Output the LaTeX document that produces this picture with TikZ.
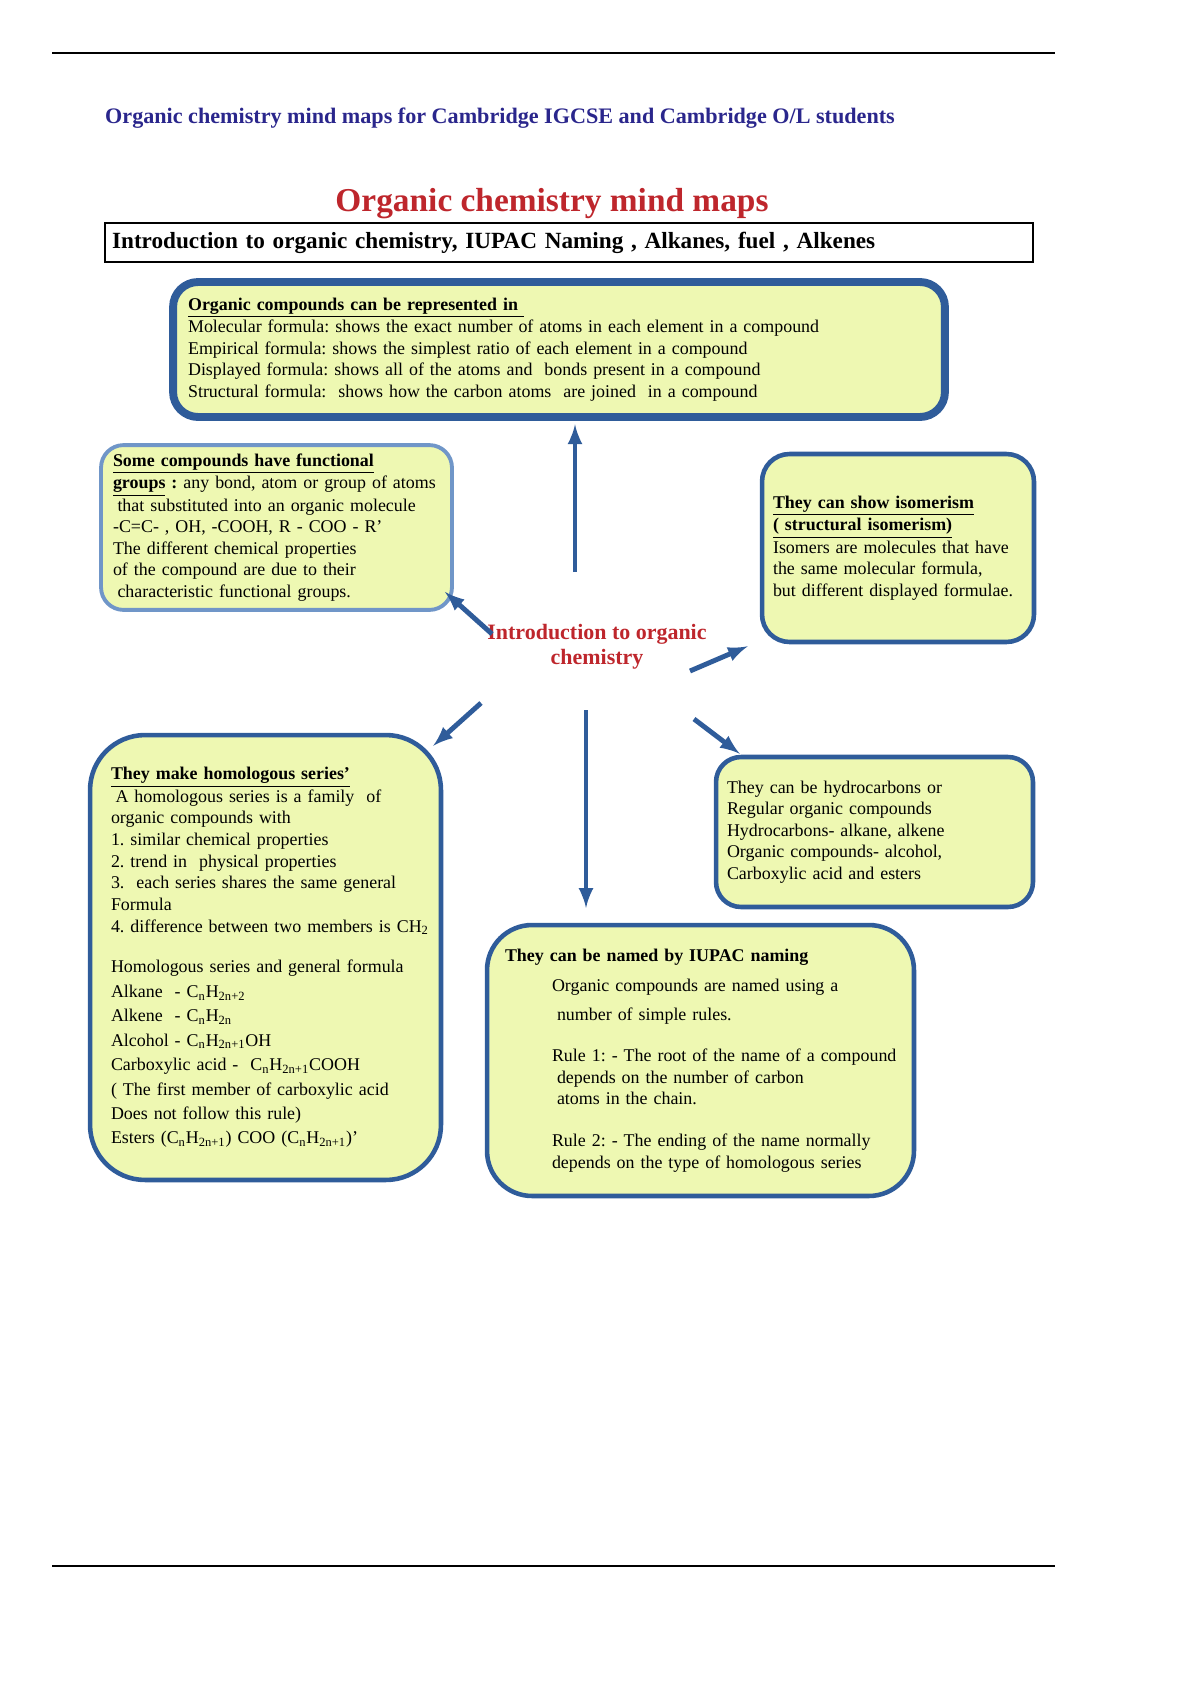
\documentclass[tikz,border=0pt]{standalone}
\usepackage{fontspec}
\setmainfont{Liberation Serif}
\usepackage{tikz}

\definecolor{boxfill}{RGB}{238,248,178}
\definecolor{boxline}{RGB}{47,92,154}
\definecolor{paleline}{RGB}{112,150,200}
\definecolor{titlered}{RGB}{190,38,44}
\definecolor{headblue}{RGB}{42,38,140}
\newcommand{\bodyfont}{\fontsize{10.2}{12.3}\selectfont\frenchspacing}
\newcommand{\hd}[1]{\underline{\textbf{#1}}}
\newcommand{\sub}[1]{\textsubscript{#1}}
\newcommand{\lines}[1]{\begin{tabular}{@{}l@{}}#1\end{tabular}}

\begin{document}
\begin{tikzpicture}[x=0.02cm,y=-0.02cm]
\tikzstyle{card}=[draw=boxline,fill=boxfill,line width=2.6pt,align=left,font=\bodyfont]
\tikzstyle{arr}=[-latex,draw=boxline,line width=2.8pt]
\useasboundingbox (0,0) rectangle (1200,1700);
\draw[line width=1.1pt] (52,53) -- (1055,53);
\draw[line width=1.1pt] (52,1566) -- (1055,1566);
\node[anchor=west,text=headblue,font=\fontsize{12.6}{15}\selectfont\bfseries] (head) at (99,118) {Organic chemistry mind maps for Cambridge IGCSE and Cambridge O/L students};
\node[text=titlered,font=\fontsize{19}{22}\selectfont\bfseries] (title) at (552,204) {Organic chemistry mind maps};
\node[draw,line width=1pt,minimum width=18.56cm,minimum height=0.78cm,text width=18.28cm,inner xsep=0.14cm,align=left,font=\fontsize{13.2}{15}\selectfont\bfseries] (topic) at (569,242.5) {Introduction to organic chemistry, IUPAC Naming , Alkanes, fuel , Alkenes};

\node[card,line width=4.5pt,rounded corners=0.5cm,text width=14.84cm,inner xsep=0.3cm,minimum height=2.7cm] (repr) at (559,349.5) {\lines{\hd{Organic compounds can be represented in~}\\
Molecular formula: shows the exact number of atoms in each element in a compound\\
Empirical formula: shows the simplest ratio of each element in a compound\\
Displayed formula: shows all of the atoms and\ \ bonds present in a compound\\
Structural formula:\ \ shows how the carbon atoms\ \ are joined\ \ in a compound}};

\node[card,draw=paleline,line width=2.2pt,rounded corners=0.45cm,text width=6.54cm,inner xsep=0.24cm,minimum height=3.1cm] (func) at (276.5,527.5) {\lines{\hd{Some compounds have functional}\\
\hd{groups}\textbf{ :} any bond, atom or group of atoms\\
\hspace*{0.25em}that substituted into an organic molecule\\
-C=C- , OH, -COOH, R - COO - R’\\
The different chemical properties\\
of the compound are due to their\\
\hspace*{0.25em}characteristic functional groups.}};

\node[card,rounded corners=0.55cm,text width=5cm,inner xsep=0.22cm,minimum height=3.76cm] (isomer) at (898,548) {\lines{\hd{They can show isomerism}\\
\hd{( structural isomerism)}\\
Isomers are molecules that have\\
the same molecular formula,\\
but different displayed formulae.}};

\node[text=titlered,font=\fontsize{12.5}{14.5}\selectfont\bfseries,align=center] (intro) at (597,647) {Introduction to organic\\chemistry};

\node[card,rounded corners=1.1cm,text width=6.18cm,inner xsep=0.42cm,minimum height=8.9cm] (homol) at (265.5,957.5) {\lines{\hd{They make homologous series’}\\
\hspace*{0.25em}A homologous series is a family\ \ of\\
organic compounds with\\
1. similar chemical properties\\
2. trend in\ \ physical properties\\
3.\ \ each series shares the same general\\
Formula\\
4. difference between two members is CH\sub{2}\\[11pt]
Homologous series and general formula\\[1.6pt]
Alkane\ \ - C\sub{n}H\sub{2n+2}\\[1.6pt]
Alkene\ \ - C\sub{n}H\sub{2n}\\[1.6pt]
Alcohol - C\sub{n}H\sub{2n+1}OH\\[1.6pt]
Carboxylic acid -\ \ C\sub{n}H\sub{2n+1}COOH\\[1.6pt]
( The first member of carboxylic acid\\[1.6pt]
Does not follow this rule)\\[1.6pt]
Esters (C\sub{n}H\sub{2n+1}) COO (C\sub{n}H\sub{2n+1})’}};

\node[card,rounded corners=0.5cm,text width=5.9cm,inner xsep=0.22cm,minimum height=3cm] (hydro) at (874.5,832) {\lines{They can be hydrocarbons or\\
Regular organic compounds\\
Hydrocarbons- alkane, alkene\\
Organic compounds- alcohol,\\
Carboxylic acid and esters}};

\node[card,rounded corners=0.9cm,text width=7.82cm,inner xsep=0.36cm,minimum height=5.42cm] (iupac) at (700.5,1060.5) {\lines{\textbf{They can be named by IUPAC naming}\\[4.5pt]
\hspace*{0.94cm}Organic compounds are named using a\\[4.5pt]
\hspace*{1.04cm}number of simple rules.\\[11pt]
\hspace*{0.94cm}Rule 1: - The root of the name of a compound\\
\hspace*{1.04cm}depends on the number of carbon\\
\hspace*{1.04cm}atoms in the chain.\\[11.5pt]
\hspace*{0.94cm}Rule 2: - The ending of the name normally\\
\hspace*{0.94cm}depends on the type of homologous series}};

\coordinate (up0) at (575,572);
\coordinate (ul0) at (492,634);
\coordinate (rt0) at (690,671);
\coordinate (ll0) at (481,703);
\coordinate (dn0) at (586,710);
\coordinate (lr0) at (694,719);
\draw[arr,shorten >=2pt] (up0) -- (up0 |- repr.south);
\draw[arr] (ul0) -- ([shift={(-9,-20)}]func.south east);
\draw[arr] (rt0) -- ([shift={(-12,2)}]isomer.south west);
\draw[arr] (ll0) -- ([shift={(-10,13)}]homol.north east);
\draw[arr,shorten >=8.5pt] (dn0) -- (dn0 |- iupac.north);
\draw[arr] (lr0) -- ([shift={(26,-1)}]hydro.north west);
\end{tikzpicture}
\end{document}
